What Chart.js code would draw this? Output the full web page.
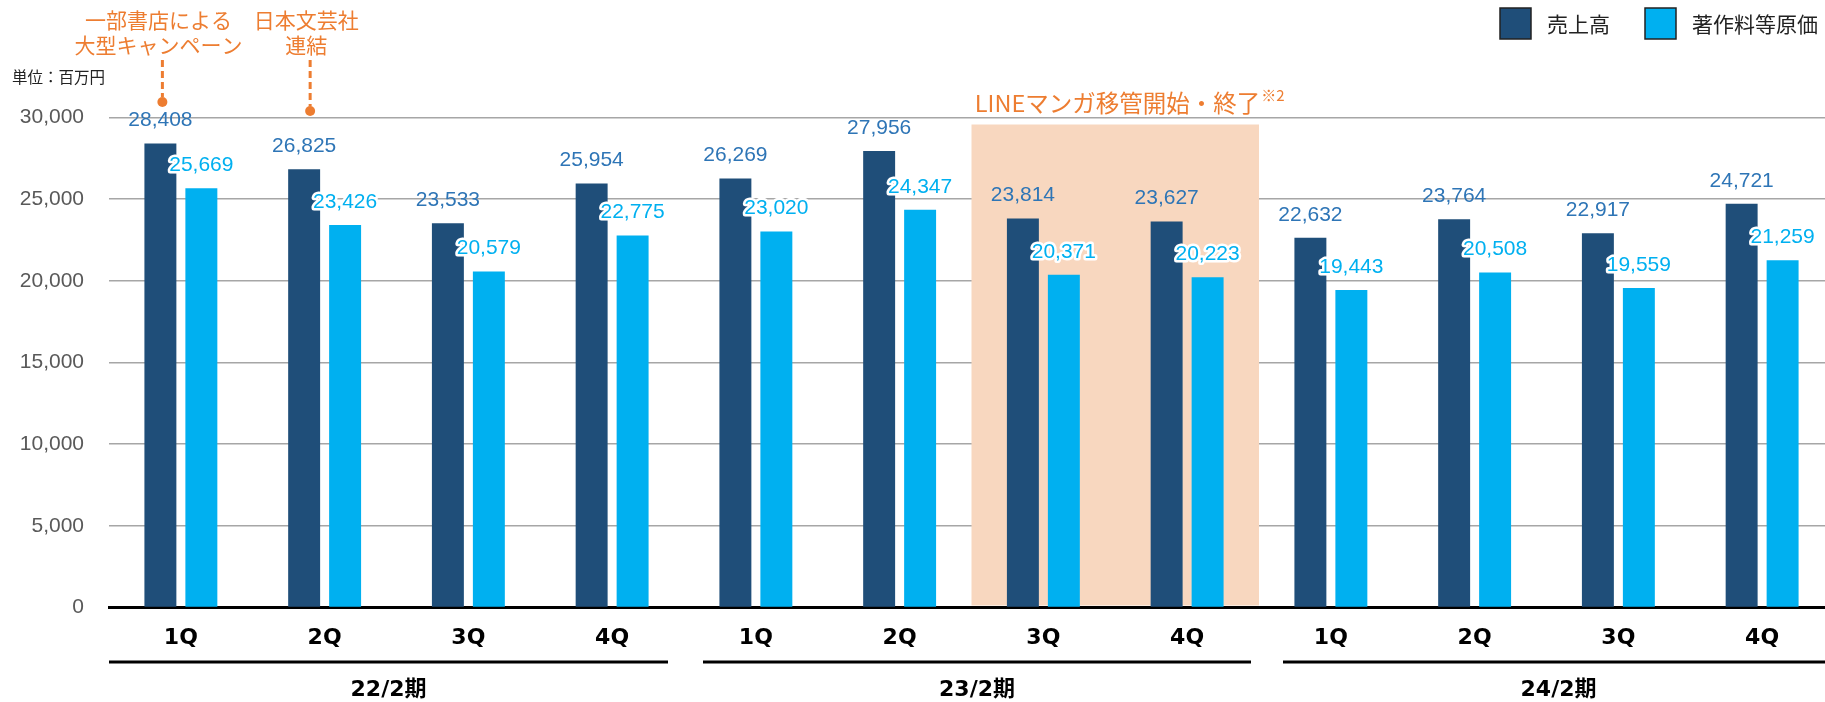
<!DOCTYPE html>
<html>
<head>
<meta charset="utf-8">
<script src="https://cdn.jsdelivr.net/npm/chart.js@4.4.1/dist/chart.umd.min.js"></script>
<style>
    html, body { margin: 0; padding: 0; background: #fff; overflow: hidden; }
    #wrap { width: 1834px; height: 702px; }
</style>
</head>
<body>
<div id="wrap"><canvas id="chart" width="1834" height="702"></canvas></div>
<script>
const quarters = ['1Q', '2Q', '3Q', '4Q', '1Q', '2Q', '3Q', '4Q', '1Q', '2Q', '3Q', '4Q'];
const periods = ['22/2期', '23/2期', '24/2期'];
const sales = [28408, 26825, 23533, 25954, 26269, 27956, 23814, 23627, 22632, 23764, 22917, 24721];
const royaltyCost = [25669, 23426, 20579, 22775, 23020, 24347, 20371, 20223, 19443, 20508, 19559, 21259];
const seriesNames = ['売上高', '著作料等原価'];
const yTicks = [0, 5000, 10000, 15000, 20000, 25000, 30000];
const lineMangaRange = [6, 7]; // 3Q..4Q of 23/2期
const notes = [
    {index: 0, lines: ['一部書店による', '大型キャンペーン'], dx: 2, dotY: 102},
    {index: 1, lines: ['日本文芸社', '連結'], dx: 6, dotY: 111}
];

const DARK = '#1f4e79';
const LIGHT = '#00b0f0';
const ORANGE = '#ed7d31';
const JP = '"Noto Sans CJK JP", "Noto Sans", sans-serif';
const BOLD = '"DejaVu Sans", "Noto Sans CJK JP", sans-serif';
const NUM = '"Liberation Sans", Arial, sans-serif';

const fmt = v => v.toLocaleString('en-US');

// peach band behind the LINE manga quarters
const bandPlugin = {
    id: 'band',
    beforeDatasetsDraw(chart) {
        const {ctx, scales: {x, y}} = chart;
        const half = (x.getPixelForValue(1) - x.getPixelForValue(0)) / 2;
        const left = x.getPixelForValue(lineMangaRange[0]) - half;
        const right = x.getPixelForValue(lineMangaRange[1]) + half;
        const top = y.getPixelForValue(30000) + 7;
        const bottom = y.getPixelForValue(0) - 2;
        ctx.save();
        ctx.fillStyle = '#f8d7bf';
        ctx.fillRect(left, top, right - left, bottom - top);
        ctx.restore();
    }
};

const labelPlugin = {
    id: 'labels',
    afterDatasetsDraw(chart) {
        const {ctx} = chart;
        ctx.save();
        ctx.font = '21px ' + NUM;
        ctx.textAlign = 'center';
        ctx.textBaseline = 'middle';
        chart.data.datasets.forEach((ds, di) => {
            chart.getDatasetMeta(di).data.forEach((bar, i) => {
                const txt = fmt(ds.data[i]);
                const ty = bar.y - 23;
                if (di === 1) {
                    ctx.strokeStyle = '#fff';
                    ctx.lineWidth = 5;
                    ctx.lineJoin = 'round';
                    ctx.strokeText(txt, bar.x, ty);
                    ctx.fillStyle = LIGHT;
                } else {
                    ctx.fillStyle = '#2e75b6';
                }
                ctx.fillText(txt, bar.x, ty);
            });
        });
        ctx.restore();
    }
};

const decorPlugin = {
    id: 'decor',
    afterDraw(chart) {
        const {ctx, scales: {x}} = chart;
        const half = (x.getPixelForValue(1) - x.getPixelForValue(0)) / 2;
        ctx.save();

        // period brackets under the quarter labels
        const insets = [[0, 16], [19, 8], [24, 0]];
        ctx.strokeStyle = '#000';
        ctx.lineWidth = 3;
        ctx.fillStyle = '#000';
        ctx.font = 'bold 22px ' + BOLD;
        ctx.textAlign = 'center';
        ctx.textBaseline = 'middle';
        periods.forEach((p, g) => {
            const a = x.getPixelForValue(g * 4) - half + insets[g][0];
            const b = x.getPixelForValue(g * 4 + 3) + half - insets[g][1];
            ctx.beginPath();
            ctx.moveTo(a, 662);
            ctx.lineTo(b, 662);
            ctx.stroke();
            ctx.fillText(p, (a + b) / 2, 690);
        });

        // unit
        ctx.font = '15.5px ' + JP;
        ctx.textAlign = 'left';
        ctx.fillStyle = '#222';
        ctx.fillText('単位：百万円', 12, 77);

        // callouts
        const meta = chart.getDatasetMeta(0);
        ctx.font = '21px ' + JP;
        ctx.textAlign = 'center';
        notes.forEach(n => {
            const cx = meta.data[n.index].x + n.dx;
            ctx.fillStyle = ORANGE;
            ctx.fillText(n.lines[0], cx - 4, 20);
            ctx.fillText(n.lines[1], cx - 4, 45);
            ctx.strokeStyle = ORANGE;
            ctx.lineWidth = 3;
            ctx.setLineDash([7, 4]);
            ctx.beginPath();
            ctx.moveTo(cx, 60);
            ctx.lineTo(cx, n.dotY - 5);
            ctx.stroke();
            ctx.setLineDash([]);
            ctx.beginPath();
            ctx.arc(cx, n.dotY, 5, 0, Math.PI * 2);
            ctx.fill();
        });

        // LINE manga caption
        const bandMid = x.getPixelForValue(lineMangaRange[0]) + half;
        const main = 'LINEマンガ移管開始・終了';
        ctx.font = '23.5px ' + JP;
        const w1 = ctx.measureText(main).width;
        ctx.font = '15px ' + JP;
        const w2 = ctx.measureText('※2').width;
        const startX = bandMid + 14 - (w1 + w2) / 2;
        ctx.textAlign = 'left';
        ctx.fillStyle = ORANGE;
        ctx.font = '23.5px ' + JP;
        ctx.fillText(main, startX, 103);
        ctx.font = '15px ' + JP;
        ctx.fillText('※2', startX + w1 + 1, 95);

        // legend
        const items = [{c: DARK, x: 1500, t: seriesNames[0]}, {c: LIGHT, x: 1645, t: seriesNames[1]}];
        ctx.font = '21px ' + JP;
        items.forEach(it => {
            ctx.fillStyle = it.c;
            ctx.fillRect(it.x, 8, 31, 31);
            ctx.strokeStyle = '#222';
            ctx.lineWidth = 1.5;
            ctx.strokeRect(it.x, 8, 31, 31);
            ctx.fillStyle = '#222';
            ctx.fillText(it.t, it.x + 47, 24);
        });

        ctx.restore();
    }
};

new Chart(document.getElementById('chart'), {
    type: 'bar',
    data: {
        labels: quarters,
        datasets: [
            {label: seriesNames[0], data: sales, backgroundColor: DARK},
            {label: seriesNames[1], data: royaltyCost, backgroundColor: LIGHT}
        ]
    },
    options: {
        responsive: false,
        animation: false,
        devicePixelRatio: 1,
        categoryPercentage: 0.57,
        barPercentage: 0.78,
        layout: {padding: {top: 117.5, left: 0, right: 0, bottom: 0}},
        plugins: {
            legend: {display: false},
            tooltip: {enabled: false}
        },
        scales: {
            x: {
                grid: {display: false, drawTicks: false},
                border: {display: true, color: '#000', width: 3},
                ticks: {
                    color: '#000',
                    font: {family: BOLD, size: 22, weight: 'bold'},
                    padding: 18,
                    maxRotation: 0
                },
                afterFit(scale) { scale.height = 94.5; }
            },
            y: {
                min: 0,
                max: 30000,
                afterBuildTicks(scale) { scale.ticks = yTicks.map(v => ({value: v})); },
                grid: {
                    drawTicks: false,
                    color: ctx => ctx.tick && ctx.tick.value === 0 ? 'rgba(0,0,0,0)' : '#a6a6a6',
                    lineWidth: 1.5
                },
                border: {display: false},
                ticks: {
                    color: '#595959',
                    font: {family: NUM, size: 21},
                    padding: 25,
                    callback: v => fmt(v)
                },
                afterFit(scale) { scale.width = 109; }
            }
        }
    },
    plugins: [bandPlugin, labelPlugin, decorPlugin]
});
</script>
</body>
</html>
